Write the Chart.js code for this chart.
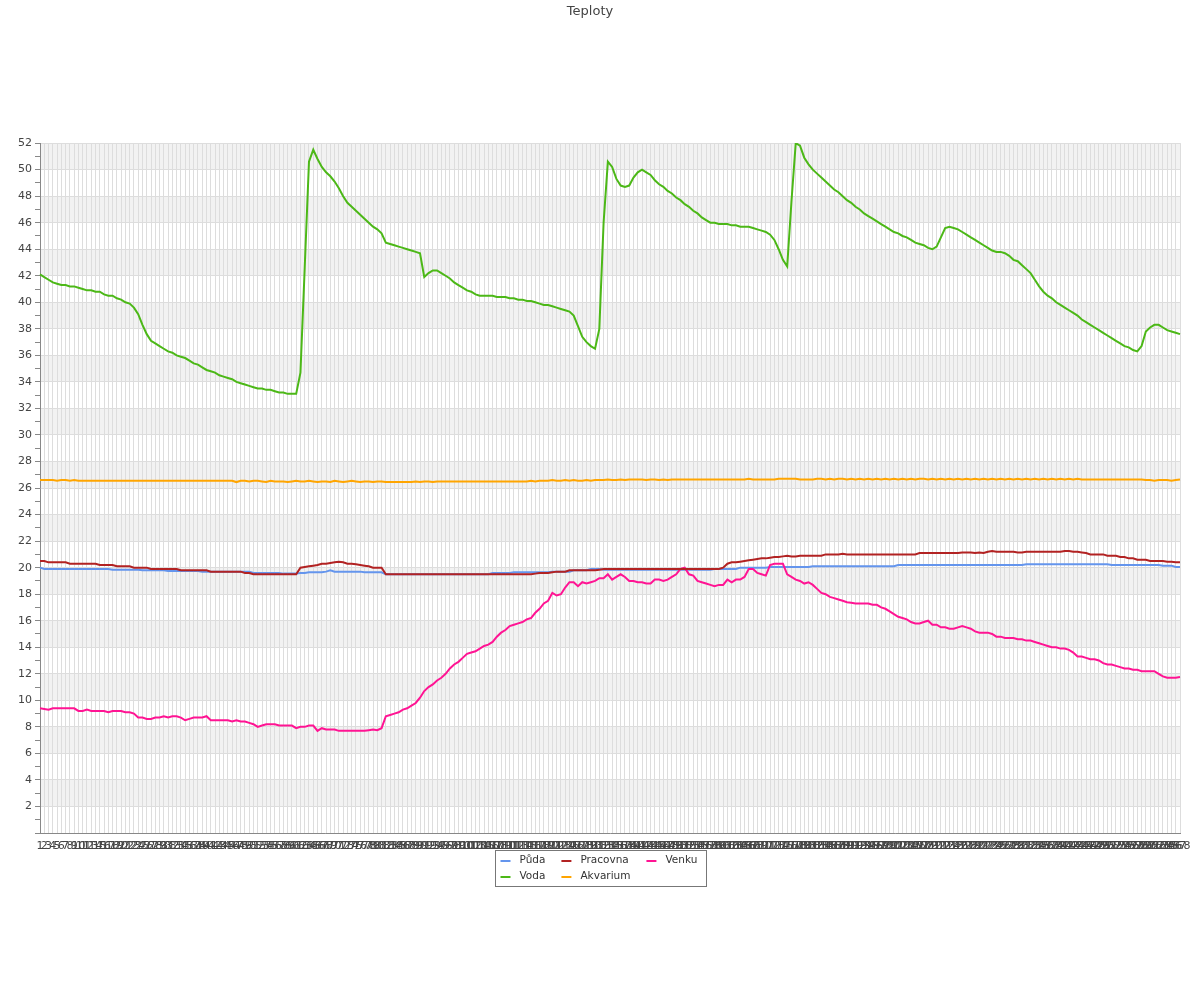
<!DOCTYPE html>
<html>
<head>
<meta charset="utf-8">
<title>Teploty</title>
<script src="https://cdn.jsdelivr.net/npm/chart.js@4/dist/chart.umd.min.js"></script>
<style>
  body { margin: 0; background: #fff; }
</style>
</head>
<body>
<canvas id="graf" width="1200" height="1000"></canvas>
<script>
// mereni 1..268
const labels = Array.from({ length: 268 }, (_, i) => String(i + 1));

const puda = [
    20.0, 19.9, 19.9, 19.9, 19.9, 19.9, 19.9, 19.9, 19.9, 19.9,
    19.9, 19.9, 19.9, 19.9, 19.9, 19.9, 19.9, 19.85, 19.85, 19.85,
    19.85, 19.85, 19.85, 19.85, 19.8, 19.8, 19.8, 19.8, 19.8, 19.8,
    19.75, 19.75, 19.75, 19.75, 19.75, 19.75, 19.75, 19.75, 19.7, 19.7,
    19.7, 19.7, 19.7, 19.7, 19.7, 19.7, 19.7, 19.7, 19.7, 19.7,
    19.6, 19.6, 19.6, 19.6, 19.6, 19.6, 19.6, 19.55, 19.55, 19.55,
    19.55, 19.6, 19.6, 19.65, 19.65, 19.65, 19.65, 19.7, 19.8, 19.7,
    19.7, 19.7, 19.7, 19.7, 19.7, 19.7, 19.65, 19.65, 19.65, 19.65,
    19.65, 19.5, 19.5, 19.5, 19.5, 19.5, 19.5, 19.5, 19.5, 19.5,
    19.5, 19.5, 19.5, 19.5, 19.5, 19.5, 19.5, 19.5, 19.5, 19.5,
    19.5, 19.5, 19.5, 19.5, 19.5, 19.5, 19.6, 19.6, 19.6, 19.6,
    19.6, 19.65, 19.65, 19.65, 19.65, 19.65, 19.65, 19.65, 19.65, 19.65,
    19.7, 19.7, 19.7, 19.7, 19.7, 19.8, 19.8, 19.8, 19.8, 19.9,
    19.9, 19.9, 19.85, 19.85, 19.85, 19.85, 19.85, 19.85, 19.85, 19.85,
    19.85, 19.85, 19.85, 19.85, 19.85, 19.85, 19.85, 19.85, 19.85, 19.85,
    19.85, 19.85, 19.85, 19.85, 19.85, 19.85, 19.85, 19.85, 19.9, 19.9,
    19.9, 19.9, 19.9, 19.9, 20.0, 20.0, 20.0, 20.0, 20.0, 20.0,
    20.0, 20.05, 20.05, 20.05, 20.05, 20.05, 20.05, 20.05, 20.05, 20.05,
    20.05, 20.1, 20.1, 20.1, 20.1, 20.1, 20.1, 20.1, 20.1, 20.1,
    20.1, 20.1, 20.1, 20.1, 20.1, 20.1, 20.1, 20.1, 20.1, 20.1,
    20.1, 20.2, 20.2, 20.2, 20.2, 20.2, 20.2, 20.2, 20.2, 20.2,
    20.2, 20.2, 20.2, 20.2, 20.2, 20.2, 20.2, 20.2, 20.2, 20.2,
    20.2, 20.2, 20.2, 20.2, 20.2, 20.2, 20.2, 20.2, 20.2, 20.2,
    20.2, 20.25, 20.25, 20.25, 20.25, 20.25, 20.25, 20.25, 20.25, 20.25,
    20.25, 20.25, 20.25, 20.25, 20.25, 20.25, 20.25, 20.25, 20.25, 20.25,
    20.25, 20.2, 20.2, 20.2, 20.2, 20.2, 20.2, 20.2, 20.2, 20.2,
    20.2, 20.2, 20.2, 20.15, 20.15, 20.15, 20.05, 20.05
];

const pracovna = [
    20.5, 20.5, 20.4, 20.4, 20.4, 20.4, 20.4, 20.3, 20.3, 20.3,
    20.3, 20.3, 20.3, 20.3, 20.2, 20.2, 20.2, 20.2, 20.1, 20.1,
    20.1, 20.1, 20.0, 20.0, 20.0, 20.0, 19.9, 19.9, 19.9, 19.9,
    19.9, 19.9, 19.9, 19.8, 19.8, 19.8, 19.8, 19.8, 19.8, 19.8,
    19.7, 19.7, 19.7, 19.7, 19.7, 19.7, 19.7, 19.7, 19.6, 19.6,
    19.5, 19.5, 19.5, 19.5, 19.5, 19.5, 19.5, 19.5, 19.5, 19.5,
    19.5, 20.0, 20.05, 20.1, 20.15, 20.2, 20.3, 20.3, 20.35, 20.4,
    20.45, 20.4, 20.3, 20.3, 20.25, 20.2, 20.15, 20.1, 20.0, 20.0,
    20.0, 19.5, 19.5, 19.5, 19.5, 19.5, 19.5, 19.5, 19.5, 19.5,
    19.5, 19.5, 19.5, 19.5, 19.5, 19.5, 19.5, 19.5, 19.5, 19.5,
    19.5, 19.5, 19.5, 19.5, 19.5, 19.5, 19.5, 19.5, 19.5, 19.5,
    19.5, 19.5, 19.5, 19.5, 19.5, 19.5, 19.55, 19.6, 19.6, 19.6,
    19.65, 19.7, 19.7, 19.7, 19.8, 19.8, 19.8, 19.8, 19.8, 19.8,
    19.8, 19.85, 19.9, 19.9, 19.9, 19.9, 19.9, 19.9, 19.9, 19.9,
    19.9, 19.9, 19.9, 19.9, 19.9, 19.9, 19.9, 19.9, 19.9, 19.9,
    19.9, 19.9, 19.9, 19.9, 19.9, 19.9, 19.9, 19.9, 19.9, 19.9,
    20.0, 20.3, 20.4, 20.4, 20.45, 20.5, 20.55, 20.6, 20.65, 20.7,
    20.7, 20.75, 20.8, 20.8, 20.85, 20.9, 20.85, 20.85, 20.9, 20.9,
    20.9, 20.9, 20.9, 20.9, 21.0, 21.0, 21.0, 21.0, 21.05, 21.0,
    21.0, 21.0, 21.0, 21.0, 21.0, 21.0, 21.0, 21.0, 21.0, 21.0,
    21.0, 21.0, 21.0, 21.0, 21.0, 21.0, 21.1, 21.1, 21.1, 21.1,
    21.1, 21.1, 21.1, 21.1, 21.1, 21.1, 21.15, 21.15, 21.15, 21.1,
    21.15, 21.1, 21.2, 21.25, 21.2, 21.2, 21.2, 21.2, 21.2, 21.15,
    21.15, 21.2, 21.2, 21.2, 21.2, 21.2, 21.2, 21.2, 21.2, 21.2,
    21.25, 21.25, 21.2, 21.2, 21.15, 21.1, 21.0, 21.0, 21.0, 21.0,
    20.9, 20.9, 20.9, 20.8, 20.8, 20.7, 20.7, 20.6, 20.6, 20.6,
    20.5, 20.5, 20.5, 20.5, 20.45, 20.45, 20.4, 20.4
];

const venku = [
    9.4, 9.35, 9.3, 9.4, 9.4, 9.4, 9.4, 9.4, 9.4, 9.2,
    9.2, 9.3, 9.2, 9.2, 9.2, 9.2, 9.1, 9.2, 9.2, 9.2,
    9.1, 9.1, 9.0, 8.7, 8.7, 8.6, 8.6, 8.7, 8.7, 8.8,
    8.7, 8.8, 8.8, 8.7, 8.5, 8.6, 8.7, 8.7, 8.7, 8.8,
    8.5, 8.5, 8.5, 8.5, 8.5, 8.4, 8.5, 8.4, 8.4, 8.3,
    8.2, 8.0, 8.1, 8.2, 8.2, 8.2, 8.1, 8.1, 8.1, 8.1,
    7.9, 8.0, 8.0, 8.1, 8.1, 7.7, 7.9, 7.8, 7.8, 7.8,
    7.7, 7.7, 7.7, 7.7, 7.7, 7.7, 7.7, 7.75, 7.8, 7.75,
    7.9, 8.8, 8.9, 9.0, 9.1, 9.3, 9.4, 9.6, 9.8, 10.2,
    10.7, 11.0, 11.2, 11.5, 11.7, 12.0, 12.4, 12.7, 12.9, 13.2,
    13.5, 13.6, 13.7, 13.9, 14.1, 14.2, 14.4, 14.8, 15.1, 15.3,
    15.6, 15.7, 15.8, 15.9, 16.1, 16.2, 16.6, 16.9, 17.3, 17.5,
    18.1, 17.9, 18.0, 18.5, 18.9, 18.9, 18.6, 18.9, 18.8, 18.9,
    19.0, 19.2, 19.2, 19.5, 19.1, 19.3, 19.5, 19.3, 19.0, 19.0,
    18.9, 18.9, 18.8, 18.8, 19.1, 19.1, 19.0, 19.1, 19.3, 19.5,
    19.9, 20.0, 19.5, 19.4, 19.0, 18.9, 18.8, 18.7, 18.6, 18.7,
    18.7, 19.1, 18.9, 19.1, 19.1, 19.3, 19.9, 19.9, 19.6, 19.5,
    19.4, 20.2, 20.3, 20.3, 20.3, 19.5, 19.3, 19.1, 19.0, 18.8,
    18.9, 18.7, 18.4, 18.1, 18.0, 17.8, 17.7, 17.6, 17.5, 17.4,
    17.35, 17.3, 17.3, 17.3, 17.3, 17.2, 17.2, 17.0, 16.9, 16.7,
    16.5, 16.3, 16.2, 16.1, 15.9, 15.8, 15.8, 15.9, 16.0, 15.7,
    15.7, 15.5, 15.5, 15.4, 15.4, 15.5, 15.6, 15.5, 15.4, 15.2,
    15.1, 15.1, 15.1, 15.0, 14.8, 14.8, 14.7, 14.7, 14.7, 14.6,
    14.6, 14.5, 14.5, 14.4, 14.3, 14.2, 14.1, 14.0, 14.0, 13.9,
    13.9, 13.8, 13.6, 13.3, 13.3, 13.2, 13.1, 13.1, 13.0, 12.8,
    12.7, 12.7, 12.6, 12.5, 12.4, 12.4, 12.3, 12.3, 12.2, 12.2,
    12.2, 12.2, 12.0, 11.8, 11.7, 11.7, 11.7, 11.75
];

const voda = [
    42.1, 41.9, 41.7, 41.5, 41.4, 41.3, 41.3, 41.2, 41.2, 41.1,
    41.0, 40.9, 40.9, 40.8, 40.8, 40.6, 40.5, 40.5, 40.3, 40.2,
    40.0, 39.9, 39.6, 39.1, 38.3, 37.6, 37.1, 36.9, 36.7, 36.5,
    36.3, 36.2, 36.0, 35.9, 35.8, 35.6, 35.4, 35.3, 35.1, 34.9,
    34.8, 34.7, 34.5, 34.4, 34.3, 34.2, 34.0, 33.9, 33.8, 33.7,
    33.6, 33.5, 33.5, 33.4, 33.4, 33.3, 33.2, 33.2, 33.1, 33.1,
    33.1, 34.7, 42.6, 50.6, 51.5, 50.8, 50.2, 49.8, 49.5, 49.1,
    48.6, 48.0, 47.5, 47.2, 46.9, 46.6, 46.3, 46.0, 45.7, 45.5,
    45.2, 44.5, 44.4, 44.3, 44.2, 44.1, 44.0, 43.9, 43.8, 43.7,
    41.9, 42.2, 42.4, 42.4, 42.2, 42.0, 41.8, 41.5, 41.3, 41.1,
    40.9, 40.8, 40.6, 40.5, 40.5, 40.5, 40.5, 40.4, 40.4, 40.4,
    40.3, 40.3, 40.2, 40.2, 40.1, 40.1, 40.0, 39.9, 39.8, 39.8,
    39.7, 39.6, 39.5, 39.4, 39.3, 39.0, 38.2, 37.4, 37.0, 36.7,
    36.5, 38.0, 46.0, 50.6, 50.2, 49.3, 48.8, 48.7, 48.8, 49.4,
    49.8, 50.0, 49.8, 49.6, 49.2, 48.9, 48.7, 48.4, 48.2, 47.9,
    47.7, 47.4, 47.2, 46.9, 46.7, 46.4, 46.2, 46.0, 46.0, 45.9,
    45.9, 45.9, 45.8, 45.8, 45.7, 45.7, 45.7, 45.6, 45.5, 45.4,
    45.3, 45.1, 44.7, 44.0, 43.2, 42.7, 47.6, 52.0, 51.8, 50.9,
    50.4, 50.0, 49.7, 49.4, 49.1, 48.8, 48.5, 48.3, 48.0, 47.7,
    47.5, 47.2, 47.0, 46.7, 46.5, 46.3, 46.1, 45.9, 45.7, 45.5,
    45.3, 45.2, 45.0, 44.9, 44.7, 44.5, 44.4, 44.3, 44.1, 44.0,
    44.2, 44.9, 45.6, 45.7, 45.6, 45.5, 45.3, 45.1, 44.9, 44.7,
    44.5, 44.3, 44.1, 43.9, 43.8, 43.8, 43.7, 43.5, 43.2, 43.1,
    42.8, 42.5, 42.2, 41.7, 41.2, 40.8, 40.5, 40.3, 40.0, 39.8,
    39.6, 39.4, 39.2, 39.0, 38.7, 38.5, 38.3, 38.1, 37.9, 37.7,
    37.5, 37.3, 37.1, 36.9, 36.7, 36.6, 36.4, 36.3, 36.7, 37.8,
    38.1, 38.3, 38.3, 38.1, 37.9, 37.8, 37.7, 37.6
];

const akvarium = [
    26.6, 26.6, 26.6, 26.6, 26.55, 26.6, 26.6, 26.55, 26.6, 26.55,
    26.55, 26.55, 26.55, 26.55, 26.55, 26.55, 26.55, 26.55, 26.55, 26.55,
    26.55, 26.55, 26.55, 26.55, 26.55, 26.55, 26.55, 26.55, 26.55, 26.55,
    26.55, 26.55, 26.55, 26.55, 26.55, 26.55, 26.55, 26.55, 26.55, 26.55,
    26.55, 26.55, 26.55, 26.55, 26.55, 26.55, 26.45, 26.55, 26.55, 26.5,
    26.55, 26.55, 26.5, 26.45, 26.55, 26.5, 26.5, 26.5, 26.45, 26.5,
    26.55, 26.5, 26.5, 26.55, 26.5, 26.45, 26.5, 26.5, 26.45, 26.55,
    26.5, 26.45, 26.5, 26.55, 26.5, 26.45, 26.5, 26.5, 26.45, 26.5,
    26.5, 26.45, 26.45, 26.45, 26.45, 26.45, 26.45, 26.45, 26.5, 26.45,
    26.5, 26.5, 26.45, 26.5, 26.5, 26.5, 26.5, 26.5, 26.5, 26.5,
    26.5, 26.5, 26.5, 26.5, 26.5, 26.5, 26.5, 26.5, 26.5, 26.5,
    26.5, 26.5, 26.5, 26.5, 26.5, 26.55, 26.5, 26.55, 26.55, 26.55,
    26.6, 26.55, 26.55, 26.6, 26.55, 26.6, 26.55, 26.55, 26.6, 26.55,
    26.6, 26.6, 26.6, 26.65, 26.6, 26.6, 26.65, 26.6, 26.65, 26.65,
    26.65, 26.65, 26.6, 26.65, 26.65, 26.6, 26.65, 26.6, 26.65, 26.65,
    26.65, 26.65, 26.65, 26.65, 26.65, 26.65, 26.65, 26.65, 26.65, 26.65,
    26.65, 26.65, 26.65, 26.65, 26.65, 26.65, 26.7, 26.65, 26.65, 26.65,
    26.65, 26.65, 26.65, 26.7, 26.7, 26.7, 26.7, 26.7, 26.65, 26.65,
    26.65, 26.65, 26.7, 26.7, 26.65, 26.7, 26.65, 26.7, 26.7, 26.65,
    26.7, 26.65, 26.7, 26.65, 26.7, 26.65, 26.7, 26.65, 26.7, 26.65,
    26.7, 26.65, 26.7, 26.65, 26.7, 26.65, 26.7, 26.7, 26.65, 26.7,
    26.65, 26.7, 26.65, 26.7, 26.65, 26.7, 26.65, 26.7, 26.65, 26.7,
    26.65, 26.7, 26.65, 26.7, 26.65, 26.7, 26.65, 26.7, 26.65, 26.7,
    26.65, 26.7, 26.65, 26.7, 26.65, 26.7, 26.65, 26.7, 26.65, 26.7,
    26.65, 26.7, 26.65, 26.7, 26.65, 26.65, 26.65, 26.65, 26.65, 26.65,
    26.65, 26.65, 26.65, 26.65, 26.65, 26.65, 26.65, 26.65, 26.65, 26.6,
    26.6, 26.55, 26.6, 26.6, 26.6, 26.55, 26.6, 26.65
];

Chart.defaults.font.family = '"DejaVu Sans", sans-serif';
Chart.defaults.color = '#555';

// sede pruhy mezi sudymi hodnotami (50-52, 46-48, ...)
const pruhy = {
    id: 'pruhy',
    beforeDraw(chart) {
        const { ctx, chartArea: a, scales: { y } } = chart;
        ctx.save();
        ctx.fillStyle = '#f2f2f2';
        for (let v = 2; v < 52; v += 4) {
            const top = y.getPixelForValue(v + 2);
            const bottom = y.getPixelForValue(v);
            ctx.fillRect(a.left, top, a.right - a.left, bottom - top);
        }
        ctx.restore();
    }
};

// legenda v ramecku pod grafem, 3 sloupce
const legenda = {
    id: 'legenda',
    afterDraw(chart) {
        const { ctx, chartArea } = chart;
        const sets = chart.data.datasets;
        const cols = 3, sample = 10, gap = 9, colGap = 16, padL = 5, padR = 9, rowH = 16;
        ctx.save();
        ctx.font = '10.5px "DejaVu Sans"';
        const colW = [];
        sets.forEach((ds, i) => {
            const c = i % cols;
            colW[c] = Math.max(colW[c] || 0, ctx.measureText(ds.label).width);
        });
        let width = padL + padR;
        colW.forEach((w, c) => { width += sample + gap + w + (c ? colGap : 0); });
        const rows = Math.ceil(sets.length / cols);
        const left = Math.round(chart.width / 2 - width / 2) + 0.5;
        const top = Math.round(chartArea.bottom) + 17.5;
        ctx.strokeStyle = '#777';
        ctx.lineWidth = 1;
        ctx.strokeRect(left, top, Math.round(width), rows * rowH + 4);

        ctx.textBaseline = 'middle';
        ctx.textAlign = 'left';
        sets.forEach((ds, i) => {
            const c = i % cols, r = Math.floor(i / cols);
            let x = left + padL;
            for (let k = 0; k < c; k++) x += sample + gap + colW[k] + colGap;
            const y = top + 2 + r * rowH + rowH / 2;
            ctx.strokeStyle = ds.borderColor;
            ctx.lineWidth = 2;
            ctx.beginPath();
            ctx.moveTo(x, Math.round(y));
            ctx.lineTo(x + sample, Math.round(y));
            ctx.stroke();
            ctx.fillStyle = '#333';
            ctx.fillText(ds.label, x + sample + gap, y);
        });
        ctx.restore();
    }
};

const ctx = document.getElementById('graf');

new Chart(ctx, {
    type: 'line',
    data: {
        labels: labels,
        datasets: [
            { label: 'Půda', data: puda, borderColor: '#6495ed', order: 1 },
            { label: 'Pracovna', data: pracovna, borderColor: '#b22222', order: 0 },
            { label: 'Venku', data: venku, borderColor: '#ff1493', order: 0 },
            { label: 'Voda', data: voda, borderColor: '#4cb817', order: 0 },
            { label: 'Akvarium', data: akvarium, borderColor: '#ffa500', order: 0 }
        ]
    },
    plugins: [pruhy, legenda],
    options: {
        responsive: false,
        animation: false,
        layout: {
            padding: { left: 0, right: 20, top: 0, bottom: 147 }
        },
        elements: {
            point: { radius: 0, hoverRadius: 0 },
            line: { borderWidth: 2, tension: 0 }
        },
        plugins: {
            legend: { display: false },
            tooltip: { enabled: false },
            title: {
                display: true,
                text: 'Teploty',
                color: '#444',
                font: { size: 13, weight: 'normal' },
                padding: { top: 4, bottom: 123.5 }
            }
        },
        scales: {
            x: {
                grid: {
                    color: '#dddddd',
                    drawTicks: false
                },
                border: { color: '#888' },
                ticks: {
                    autoSkip: false,
                    maxRotation: 0,
                    minRotation: 0,
                    padding: 7,
                    color: '#444',
                    font: { size: 11 }
                },
                afterFit(scale) { scale.height = 20; }
            },
            y: {
                min: 0,
                max: 52,
                grid: {
                    color: (c) => (c.tick && c.tick.value % 2 ? 'rgba(0,0,0,0)' : '#dddddd'),
                    tickColor: '#888',
                    tickLength: 5
                },
                border: { color: '#888' },
                ticks: {
                    stepSize: 1,
                    autoSkip: false,
                    padding: 3,
                    color: '#444',
                    font: { size: 11 },
                    callback: (value) => (value % 2 === 0 && value !== 0 ? value : '')
                },
                afterFit(scale) { scale.width = 40; }
            }
        }
    }
});
</script>
</body>
</html>
